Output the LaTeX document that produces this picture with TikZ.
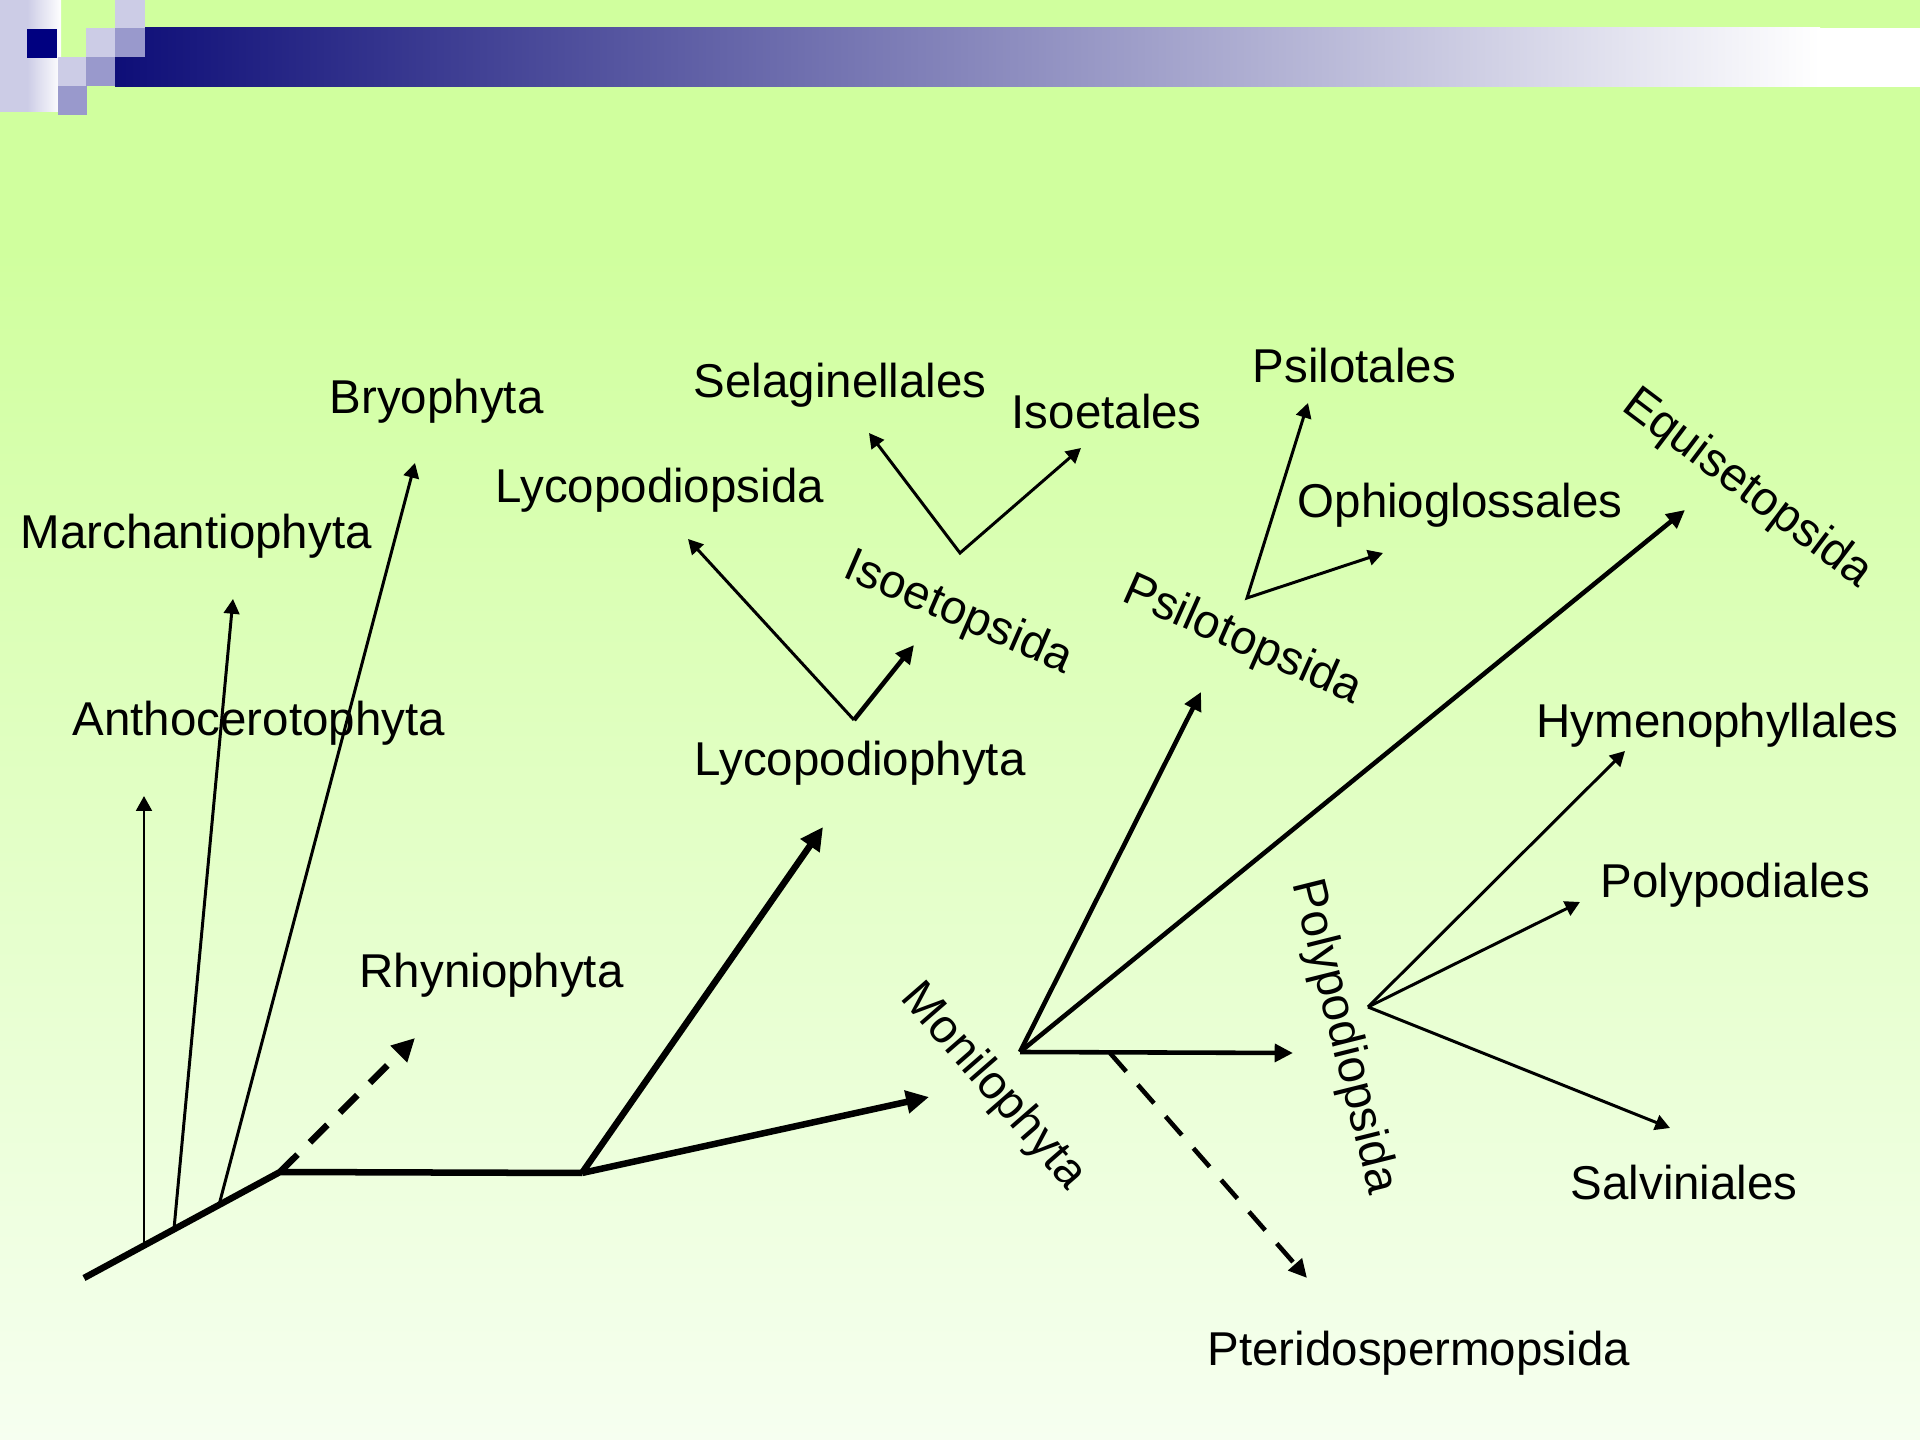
\documentclass[tikz,border=0pt]{standalone}
\usepackage{fontspec}
\setmainfont{Liberation Sans}
\usepackage{xcolor}
\usetikzlibrary{arrows.meta}

\definecolor{bg_top}{HTML}{D0FF9E}
\definecolor{bg_bottom}{HTML}{F6FFF0}
\definecolor{lav_light}{HTML}{CCCCE6}
\definecolor{lav_mid}{HTML}{9999CC}
\definecolor{navy_dark}{HTML}{000080}
\definecolor{bar_left}{HTML}{0E0E78}

\begin{document}
\begin{tikzpicture}[
        x=0.01cm, y=-0.01cm,
        taxon/.style={font=\fontsize{13.5}{16}\selectfont, inner sep=0pt},
        trunk/.style={line width=1.85pt},
        trunk_arrow/.style={trunk, -{Triangle[length=6.5pt,width=6.3pt]}},
        stem_arrow/.style={line width=1.3pt, -{Triangle[length=5.2pt,width=5pt]}},
        twig_arrow/.style={line width=0.85pt, -{Triangle[length=4.2pt,width=4.4pt]}},
        twig_pair/.style={line width=0.85pt, {Triangle[length=4.2pt,width=4.4pt]}-{Triangle[length=4.2pt,width=4.4pt]}},
        fossil/.style={dash pattern=on 7pt off 5pt}
    ]
    \useasboundingbox (0,0) rectangle (1920,1440);

    % --- fundo ---
    \fill[bg_top] (0,0) rectangle (1920,251);
    \shade[top color=bg_top, bottom color=bg_bottom] (0,250) rectangle (1920,1440);

    % --- faixa do titulo ---
    \fill[lav_light] (0,0) rectangle (27,112);
    \shade[left color=lav_light, right color=white] (27,0) rectangle (61,112);
    \shade[left color=bar_left, right color=white] (115,28) rectangle (1820,87);
    \fill[white] (1820,28) rectangle (1920,87);
    \fill[navy_dark] (27,29) rectangle (57,58);
    \fill[lav_light] (115,0) rectangle (145,28);
    \fill[lav_light] (86,28) rectangle (115,57);
    \fill[lav_light] (58,57) rectangle (86,86);
    \fill[lav_mid] (115,28) rectangle (145,57);
    \fill[lav_mid] (86,57) rectangle (115,86);
    \fill[lav_mid] (58,86) rectangle (87,115);

    % --- pontos de ramificacao ---
    \coordinate (base) at (84,1278);
    \coordinate (antho_fork) at (144,1245);
    \coordinate (march_fork) at (174,1229);
    \coordinate (bryo_fork) at (219,1205);
    \coordinate (tracheo) at (280,1172);
    \coordinate (vasc) at (582,1173);
    \coordinate (lyco_fork) at (854,720);
    \coordinate (iso_fork) at (960,553);
    \coordinate (moni_fork) at (1020,1052);
    \coordinate (psilo_fork) at (1247,598);
    \coordinate (poly_fork) at (1368,1007);
    \coordinate (pterid_start) at (1110,1053);

    % --- pontas das setas ---
    \coordinate (antho_tip) at (144,796);
    \coordinate (march_tip) at (233,599);
    \coordinate (bryo_tip) at (415,463);
    \coordinate (rhynio_tip) at (415,1038);
    \coordinate (lyco_tip) at (823,827);
    \coordinate (moni_tip) at (929,1097);
    \coordinate (lycopsida_tip) at (688,539);
    \coordinate (isoetopsida_tip) at (914,645);
    \coordinate (selag_tip) at (869,433);
    \coordinate (isoetales_tip) at (1081,448);
    \coordinate (psilotopsida_tip) at (1201,692);
    \coordinate (equi_tip) at (1685,510);
    \coordinate (polyopsida_tip) at (1293,1053);
    \coordinate (pterid_tip) at (1307,1278);
    \coordinate (psilotales_tip) at (1308,403);
    \coordinate (ophio_tip) at (1383,553);
    \coordinate (hymeno_tip) at (1625,751);
    \coordinate (polydiales_tip) at (1580,902);
    \coordinate (salvin_tip) at (1670,1128);

    % --- rotulos ---
    \node[taxon, anchor=base west] (bryo_label) at (329,414) {Bryophyta};
    \node[taxon, anchor=base west] (march_label) at (20,549) {Marchantiophyta};
    \node[taxon, anchor=base west] (antho_label) at (72,736) {Anthocerotophyta};
    \node[taxon, anchor=base west] (rhynio_label) at (359,988) {Rhyniophyta};
    \node[taxon, anchor=base west] (lycopsida_label) at (495,503) {Lycopodiopsida};
    \node[taxon, anchor=base west] (selag_label) at (693,398) {Selaginellales};
    \node[taxon, anchor=base west] (isoetales_label) at (1011,429) {Isoetales};
    \node[taxon, anchor=base west] (lyco_label) at (694,776) {Lycopodiophyta};
    \node[taxon, anchor=base west] (psilotales_label) at (1252,383) {Psilotales};
    \node[taxon, anchor=base west] (ophio_label) at (1297,518) {Ophioglossales};
    \node[taxon, anchor=base west] (hymeno_label) at (1536,738) {Hymenophyllales};
    \node[taxon, anchor=base west] (polydiales_label) at (1600,898) {Polypodiales};
    \node[taxon, anchor=base west] (salvin_label) at (1570,1200) {Salviniales};
    \node[taxon, anchor=base west] (pterid_label) at (1207,1366) {Pteridospermopsida};
    \node[taxon, rotate=-23.5] (isoetopsida_label) at (958,614) {Isoetopsida};
    \node[taxon, rotate=-24] (psilotopsida_label) at (1242,641) {Psilotopsida};
    \node[taxon, rotate=-37] (equi_label) at (1747,489) {Equisetopsida};
    \node[taxon, rotate=-49] (moni_label) at (993,1087) {Monilophyta};
    \node[taxon, rotate=-76] (polyopsida_label) at (1343,1037) {Polypodiopsida};

    % --- briofitas ---
    \draw[twig_arrow] (antho_fork) -- (antho_tip);
    \draw[twig_arrow] (march_fork) -- (march_tip);
    \draw[twig_arrow] (bryo_fork) -- (bryo_tip);

    % --- tronco ---
    \draw[trunk] (base) -- (tracheo) -- (vasc);
    \draw[trunk_arrow, fossil] (tracheo) -- (rhynio_tip);
    \draw[trunk_arrow] (vasc) -- (lyco_tip);
    \draw[trunk_arrow] (vasc) -- (moni_tip);

    % --- licofitas ---
    \draw[twig_arrow] (lyco_fork) -- (lycopsida_tip);
    \draw[stem_arrow] (lyco_fork) -- (isoetopsida_tip);
    \draw[twig_pair] (selag_tip) -- (iso_fork) -- (isoetales_tip);

    % --- monilofitas ---
    \draw[stem_arrow] (moni_fork) -- (psilotopsida_tip);
    \draw[stem_arrow] (moni_fork) -- (equi_tip);
    \draw[stem_arrow] (moni_fork) -- (polyopsida_tip);
    \draw[stem_arrow, fossil] (pterid_start) -- (pterid_tip);
    \draw[twig_pair] (psilotales_tip) -- (psilo_fork) -- (ophio_tip);
    \draw[twig_arrow] (poly_fork) -- (hymeno_tip);
    \draw[twig_arrow] (poly_fork) -- (polydiales_tip);
    \draw[twig_arrow] (poly_fork) -- (salvin_tip);

\end{tikzpicture}
\end{document}
